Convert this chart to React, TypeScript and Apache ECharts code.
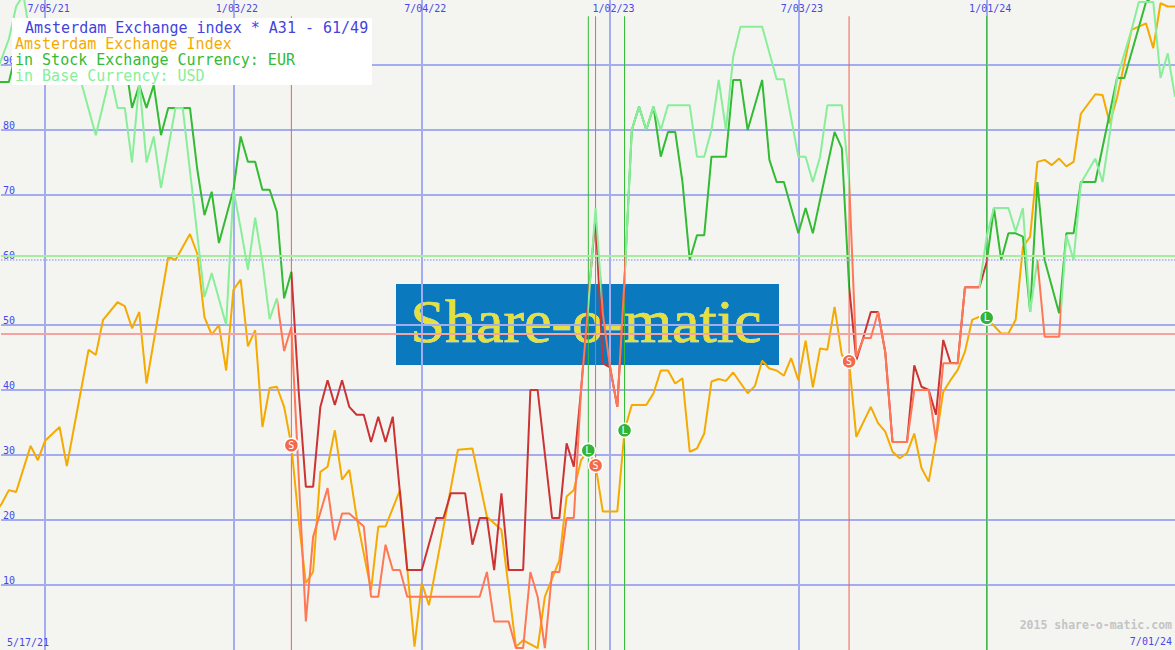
import React, { useEffect, useRef } from "react";
import * as echarts from "echarts";

// ---- axis / labels ----
const X_MIN = 0.91; // week index at the left edge (week 0 = 5/17/21)
const X_MAX = 163; // 7/01/24
const TICK_WEEKS = [7, 33, 59, 85, 111, 137];
const TICK_LABELS = ["7/05/21", "1/03/22", "7/04/22", "1/02/23", "7/03/23", "1/01/24"];
const START_LABEL = "5/17/21";
const END_LABEL = "7/01/24";

const TITLE = "Amsterdam Exchange index * A31 - 61/49";
const NAME_INDEX = "Amsterdam Exchange Index";
const NAME_EUR = "in Stock Exchange Currency: EUR";
const NAME_USD = "in Base Currency: USD";
const COPYRIGHT = "2015 share-o-matic.com";
const LOGO = "Share-o-matic";

// ---- data: [week, value] ----
const INDEX_SERIES: [number, number][] = [
  [0, 21], [1, 22.5], [2, 24.6], [3, 24.3], [5, 31.4], [6, 29.2], [7, 32.2], [9, 34.3], [10, 28.3],
  [13, 46.2], [14, 45.4], [15, 50.8], [17, 53.5], [18, 52.9], [19, 49.5], [20, 52], [21, 41],
  [24, 60.5], [25, 60], [27, 64], [28, 61], [29, 51.2], [30, 48.5], [31, 50], [32, 43], [33, 55.4],
  [34, 57], [35, 46.7], [36, 49.2], [37, 34.3], [38, 40.3], [39, 40.5], [40, 37.4], [41, 31.5],
  [42, 20], [43, 10.3], [44, 12], [45, 27.4], [46, 28.2], [47, 33.8], [48, 26.2], [49, 27.7],
  [50, 20.5], [52, 9.2], [53, 19], [54, 19], [56, 24.6], [58, 0.5], [59, 10.3], [60, 6.9],
  [64, 30.8], [66, 31], [68, 20.5], [70, 18.5], [72, 0.5], [73, 1.5], [75, 0.3], [76, 8.2],
  [78, 13.8], [79, 23.6], [80, 24.6], [81, 29.2], [82, 30.7], [83, 28.4], [84, 21.3], [86, 21.3],
  [87, 33.8], [88, 37.7], [90, 37.7], [91, 39.5], [92, 43], [93, 43], [94, 41], [95, 41.8],
  [96, 30.5], [97, 31], [98, 33.3], [99, 41.3], [100, 41.7], [101, 41.4], [102, 42.7], [104, 39.5],
  [105, 40.6], [106, 44.5], [107, 43.3], [108, 43], [109, 42.2], [110, 44.9], [111, 41.5],
  [112, 47.6], [113, 40.4], [114, 46.4], [115, 46.2], [116, 52.8], [117, 45.4], [118, 44.4],
  [119, 32.8], [121, 37.4], [122, 34.9], [123, 33.6], [124, 30.5], [125, 29.5], [126, 30.3],
  [127, 33.3], [128, 28], [129, 25.9], [130, 32.3], [131, 39.7], [132, 41.5], [133, 43.1],
  [134, 45.9], [135, 50.8], [136, 51.3], [137, 51.1], [139, 48.7], [140, 48.7], [141, 50.8],
  [142, 62], [143, 63.6], [144, 75.1], [145, 75.4], [146, 74.6], [147, 75.6], [148, 74.4],
  [149, 75.1], [150, 82.5], [152, 85.5], [153, 85.4], [154, 81], [155, 85], [157, 95.4],
  [159, 96.4], [160, 92.6], [161, 99.5], [162, 99], [163, 99],
];

const EUR_SERIES: [number, number][] = [
  [0, 87.4], [1, 87.4], [2, 87.4], [3, 92], [5, 94], [7, 91], [9, 95], [11, 92], [13, 94], [15, 90],
  [17, 93], [18, 91], [19, 83.4], [20, 86.9], [21, 83.4], [22, 86.9], [23, 79.2], [24, 83.4],
  [27, 83.4], [28, 74], [29, 66.9], [30, 70.5], [31, 62.6], [33, 70.8], [34, 79], [35, 75.1],
  [36, 75.1], [37, 70.8], [38, 70.8], [39, 67.4], [40, 54.1], [41, 58.2], [42, 40], [43, 25.1],
  [44, 25.1], [45, 37.4], [46, 41.5], [47, 37.7], [48, 41.5], [49, 37.4], [50, 36.2], [51, 36.2],
  [52, 32], [53, 35.9], [54, 32], [55, 35.9], [57, 12.3], [59, 12.3], [61, 20.3], [62, 20.3],
  [63, 24.1], [65, 24.1], [66, 16.2], [67, 20.3], [68, 20.3], [69, 12.3], [70, 24.1], [71, 12.3],
  [73, 12.3], [74, 40], [75, 40], [77, 20.3], [78, 20.3], [79, 31.8], [80, 28.2], [81, 40],
  [82, 54], [83, 66.6], [84, 44.1], [85, 43.5], [86, 37.4], [87, 57], [88, 80], [89, 83.6],
  [90, 80], [91, 83.6], [92, 75.9], [93, 79.7], [94, 79.7], [95, 72], [96, 60], [97, 63.8],
  [98, 63.8], [99, 75.9], [101, 75.9], [102, 87.7], [103, 87.7], [104, 80], [106, 87.7],
  [107, 75.4], [108, 72], [109, 72], [111, 64.1], [112, 68], [113, 64.1], [116, 79.7], [117, 77.2],
  [118, 56], [119, 44.6], [120, 48.2], [121, 52], [122, 52], [123, 45.8], [124, 32], [126, 32],
  [127, 43.8], [128, 40.5], [129, 40], [130, 36.2], [131, 47.7], [132, 44.2], [133, 44.1],
  [134, 55.8], [136, 55.8], [137, 59.7], [138, 68], [139, 60], [140, 64.1], [141, 64.1],
  [142, 63.6], [143, 52], [144, 72], [145, 60], [147, 51.8], [148, 64.1], [149, 64.1], [150, 72],
  [152, 72], [155, 88], [156, 88], [159, 99.7], [160, 100.5], [163, 104],
];

const USD_SERIES: [number, number][] = [
  [0, 88], [1, 91], [2, 94], [3, 99], [4, 100.8], [5, 94], [7, 92], [9, 95], [11, 91.3],
  [14, 79.2], [16, 88.5], [17, 83.4], [18, 83.4], [19, 75], [20, 87.5], [21, 75], [22, 79],
  [23, 71.1], [25, 83.4], [26, 83.4], [29, 54.3], [30, 58], [32, 50], [33, 70.8], [34, 64.9],
  [35, 58.5], [36, 66.5], [37, 59.7], [38, 50.9], [39, 54.1], [40, 46], [41, 49.7], [43, 4.4],
  [44, 17.4], [46, 24.9], [47, 16.9], [48, 21], [49, 21], [51, 19], [52, 8.2], [53, 8.2],
  [54, 16.2], [55, 12.3], [56, 12.3], [57, 8.2], [67, 8.2], [68, 12], [69, 4.4], [71, 4.4],
  [72, 0.3], [73, 0.3], [74, 12], [75, 8.2], [76, 0.3], [77, 12], [78, 12], [79, 20.3], [80, 20.3],
  [81, 40], [82, 53], [83, 68], [84, 51.8], [85, 43.5], [86, 37.4], [87, 57], [88, 80], [89, 83.6],
  [90, 80], [91, 83.6], [92, 80], [93, 83.8], [96, 83.8], [97, 75.9], [98, 75.9], [99, 80],
  [100, 87.7], [101, 80], [102, 91.3], [103, 95.9], [106, 95.9], [108, 87.8], [109, 87.8],
  [111, 75.9], [112, 75.9], [113, 72], [114, 75.9], [115, 83.8], [117, 83.8], [118, 72.3],
  [119, 45.1], [120, 48], [121, 48], [122, 52], [123, 45.8], [124, 32], [126, 32], [127, 40],
  [129, 40], [130, 32.3], [131, 44.1], [133, 44.1], [134, 55.8], [136, 55.8], [137, 63.6],
  [138, 68], [140, 68], [141, 64.4], [142, 68], [143, 52], [144, 60], [145, 48.2], [147, 48.2],
  [148, 63.8], [149, 60], [150, 71.8], [152, 75.6], [153, 72], [154, 79.5], [155, 88],
  [157, 95.4], [158, 99.7], [160, 99.7], [161, 88], [162, 91.8], [163, 85.1],
];

// signals (weeks)
const LONG_WEEKS = [82, 87, 137];
const SHORT_WEEKS = [41, 83, 118];
// state changes of each relative line (alternating, starting "long")
const EUR_STATE_BREAKS = [41, 87, 118, 137];
const USD_STATE_BREAKS = [39.2, 82, 83.7, 87, 118, 136, 144, 147.2];
const UPPER_LEVEL = 60.7;
const LOWER_LEVEL = 48.7;
const SIGNAL_TOP = 97.5;

// ---- colours ----
const BG = "#f4f5f1";
const GRID = "#a3acee";
const AXIS_TEXT = "#4848e8";
const ORANGE = "#f5aa00";
const DARK_GREEN = "#33bb33";
const DARK_RED = "#cc3333";
const LIGHT_GREEN = "#88ee99";
const SALMON = "#ff7755";
const SHORT_COLOR = "#f06048";
const LONG_COLOR = "#33bb33";
const MONO = '"DejaVu Sans Mono", monospace';

function statePieces(breaks: number[], onColor: string, offColor: string) {
  const out: any[] = [];
  for (let i = 0; i <= breaks.length; i++) {
    const p: any = { color: i % 2 === 0 ? onColor : offColor };
    if (i > 0) p.gte = breaks[i - 1];
    if (i < breaks.length) p.lt = breaks[i];
    out.push(p);
  }
  return out;
}

function indexAt(w: number): number {
  const f = INDEX_SERIES.find((d) => d[0] === w);
  return f ? f[1] : 0;
}

export default function App() {
  const ref = useRef<HTMLDivElement>(null);

  useEffect(() => {
    if (!ref.current) return;
    const chart = echarts.init(ref.current, undefined, { renderer: "svg" });

    const splitColors = Array.from({ length: 11 }, (_, i) =>
      i === 0 || i === 6 || i === 10 ? "rgba(0,0,0,0)" : GRID
    );

    const signalSeries = (w: number, color: string) => ({
      type: "line",
      data: [
        [w, SIGNAL_TOP],
        [w, 0],
      ],
      symbol: "none",
      silent: true,
      z: 2,
      lineStyle: { color, width: 1 },
      tooltip: { show: false },
    });

    const option: any = {
      animation: false,
      backgroundColor: BG,
      grid: { left: 0, right: 0, top: 0, bottom: 0, containLabel: false },
      xAxis: {
        type: "value",
        min: X_MIN,
        max: X_MAX,
        position: "top",
        axisLine: { show: false },
        axisTick: { show: false, customValues: TICK_WEEKS },
        axisLabel: {
          inside: true,
          customValues: TICK_WEEKS,
          margin: 3,
          padding: [0, 0, 0, 7],
          color: AXIS_TEXT,
          fontFamily: MONO,
          fontSize: 10,
          formatter: (v: number) => {
            const i = TICK_WEEKS.findIndex((t) => Math.abs(t - v) < 0.01);
            return i >= 0 ? TICK_LABELS[i] : "";
          },
        },
        splitLine: { show: true, lineStyle: { color: GRID, width: 2 } },
      },
      yAxis: {
        type: "value",
        min: 0,
        max: 100,
        interval: 10,
        axisLine: { show: false },
        axisTick: { show: false },
        axisLabel: {
          inside: true,
          margin: 2,
          verticalAlign: "bottom",
          color: AXIS_TEXT,
          fontFamily: MONO,
          fontSize: 10,
          formatter: (v: number) => (v > 0 && v < 100 ? String(v) : ""),
        },
        splitLine: { show: true, lineStyle: { color: splitColors, width: 2 } },
      },
      visualMap: [
        {
          type: "piecewise",
          show: false,
          dimension: 0,
          seriesIndex: 1,
          pieces: statePieces(EUR_STATE_BREAKS, DARK_GREEN, DARK_RED),
        },
        {
          type: "piecewise",
          show: false,
          dimension: 0,
          seriesIndex: 2,
          pieces: statePieces(USD_STATE_BREAKS, LIGHT_GREEN, SALMON),
        },
      ],
      series: [
        {
          name: NAME_INDEX,
          type: "line",
          data: INDEX_SERIES,
          symbol: "none",
          z: 3,
          lineStyle: { color: ORANGE, width: 2 },
          markLine: {
            silent: true,
            symbol: ["none", "none"],
            label: { show: false },
            animation: false,
            data: [
              { yAxis: 60, lineStyle: { color: GRID, width: 1.5, type: "dotted" } },
              { yAxis: UPPER_LEVEL, lineStyle: { color: "#a8ec9e", width: 2, type: "solid" } },
              { yAxis: LOWER_LEVEL, lineStyle: { color: "#f5a3a0", width: 2, type: "solid" } },
            ],
          },
        },
        {
          name: NAME_EUR,
          type: "line",
          data: EUR_SERIES,
          symbol: "none",
          z: 4,
          lineStyle: { width: 2 },
        },
        {
          name: NAME_USD,
          type: "line",
          data: USD_SERIES,
          symbol: "none",
          z: 5,
          lineStyle: { width: 2 },
        },
        {
          type: "scatter",
          z: 10,
          data: SHORT_WEEKS.map((w) => [w, indexAt(w)]),
          symbolSize: 14,
          itemStyle: { color: "#f26a4a", borderColor: "#ffffff", borderWidth: 1.5, opacity: 1 },
          label: { show: true, position: "inside", formatter: "S", color: "#ffffff", fontSize: 10, fontFamily: MONO },
        },
        {
          type: "scatter",
          z: 10,
          data: LONG_WEEKS.map((w) => [w, indexAt(w)]),
          symbolSize: 14,
          itemStyle: { color: "#33b533", borderColor: "#ffffff", borderWidth: 1.5, opacity: 1 },
          label: { show: true, position: "inside", formatter: "L", color: "#ffffff", fontSize: 10, fontFamily: MONO },
        },
        ...SHORT_WEEKS.map((w) => signalSeries(w, SHORT_COLOR)),
        ...LONG_WEEKS.map((w) => signalSeries(w, LONG_COLOR)),
      ],
      graphic: [
        {
          type: "rect",
          z: -1,
          silent: true,
          shape: { x: 396, y: 284, width: 383, height: 81 },
          style: { fill: "#0b79be" },
        },
        {
          type: "text",
          z: -1,
          silent: true,
          x: 586,
          y: 321,
          style: {
            text: LOGO,
            font: '62px "Liberation Serif", serif',
            align: "center",
            verticalAlign: "middle",
            fill: "#e6e03c",
            stroke: "#f4f8d8",
            lineWidth: 0.6,
            shadowColor: "rgba(0,20,40,0.8)",
            shadowBlur: 3,
            shadowOffsetX: 2,
            shadowOffsetY: 2,
          },
        },
        {
          type: "rect",
          z: 100,
          silent: true,
          shape: { x: 12, y: 18, width: 360, height: 67 },
          style: { fill: "#ffffff" },
        },
        {
          type: "text",
          z: 101,
          x: 25,
          y: 28,
          style: { text: TITLE, font: `15px ${MONO}`, fill: "#4444dd", verticalAlign: "middle" },
        },
        {
          type: "text",
          z: 101,
          x: 15,
          y: 44,
          style: { text: NAME_INDEX, font: `15px ${MONO}`, fill: ORANGE, verticalAlign: "middle" },
        },
        {
          type: "text",
          z: 101,
          x: 15,
          y: 60,
          style: { text: NAME_EUR, font: `15px ${MONO}`, fill: DARK_GREEN, verticalAlign: "middle" },
        },
        {
          type: "text",
          z: 101,
          x: 15,
          y: 76,
          style: { text: NAME_USD, font: `15px ${MONO}`, fill: LIGHT_GREEN, verticalAlign: "middle" },
        },
        {
          type: "text",
          z: 100,
          x: 1172,
          y: 625,
          style: {
            text: COPYRIGHT,
            font: `bold 11.5px ${MONO}`,
            fill: "#c4c4c4",
            align: "right",
            verticalAlign: "middle",
          },
        },
        {
          type: "text",
          z: 100,
          x: 7,
          y: 642,
          style: { text: START_LABEL, font: `10px ${MONO}`, fill: AXIS_TEXT, verticalAlign: "middle" },
        },
        {
          type: "text",
          z: 100,
          x: 1172,
          y: 641,
          style: { text: END_LABEL, font: `10px ${MONO}`, fill: AXIS_TEXT, align: "right", verticalAlign: "middle" },
        },
      ],
    };

    chart.setOption(option);
    return () => chart.dispose();
  }, []);

  return (
    <div
      ref={ref}
      style={{ position: "absolute", left: 0, top: 0, width: 1175, height: 650 }}
    />
  );
}
